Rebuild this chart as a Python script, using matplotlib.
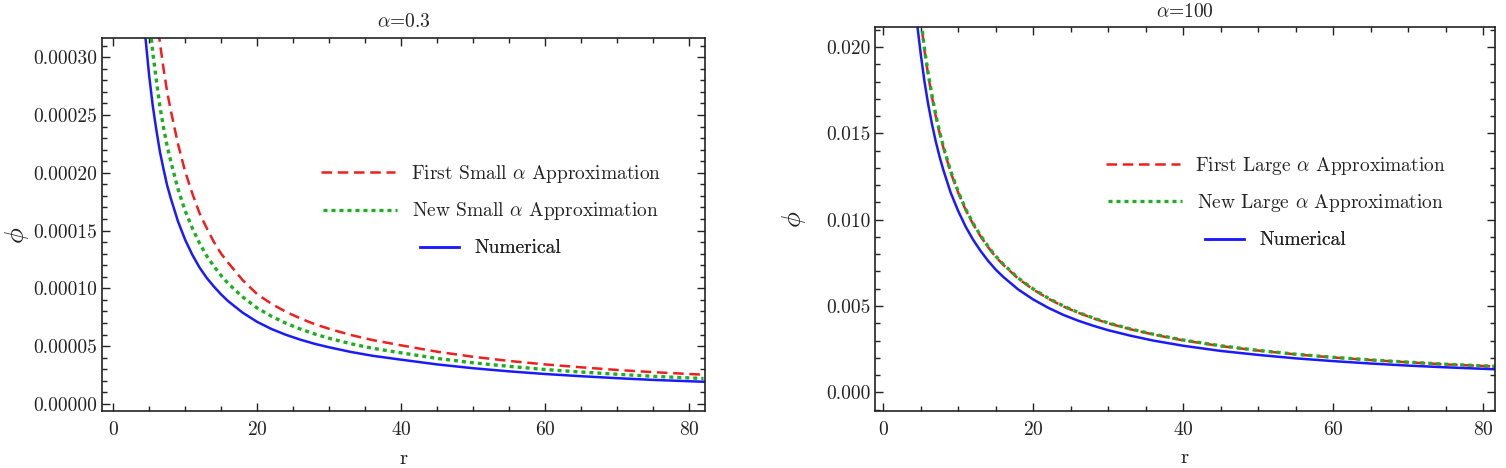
import matplotlib
matplotlib.use("Agg")
import matplotlib.pyplot as plt
from matplotlib.ticker import MultipleLocator, FormatStrFormatter

plt.rcParams['font.family'] = 'serif'
plt.rcParams['font.serif'] = ['cmr10', 'DejaVu Serif']
plt.rcParams['mathtext.fontset'] = 'cm'
plt.rcParams['axes.formatter.use_mathtext'] = True
plt.rcParams['axes.unicode_minus'] = False

# ---------------- data ----------------
r = [4.0, 4.5, 5.0, 5.5, 6.0, 6.5, 7.0, 7.5, 8.0, 9.0, 10.0, 11.0, 12.0, 13.0,
     14.0, 15.0, 16.0, 18.0, 20.0, 22.0, 24.0, 26.0, 28.0, 30.0, 33.0, 36.0,
     40.0, 45.0, 50.0, 55.0, 60.0, 65.0, 70.0, 75.0, 82.0]

# alpha = 0.3  (values in units of 1e-5)
small_numerical = [35.5, 31.6, 28.4, 25.8, 23.7, 21.8, 20.3, 18.9, 17.8, 15.8, 14.2,
                   12.9, 11.8, 10.9, 10.15, 9.47, 8.88, 7.89, 7.1, 6.48, 5.98, 5.56,
                   5.2, 4.9, 4.5, 4.17, 3.83, 3.42, 3.09, 2.82, 2.59, 2.4, 2.23,
                   2.08, 1.92]
small_new = [41.9, 37.3, 33.5, 30.4, 28.0, 25.7, 23.9, 22.3, 21.0, 18.6, 16.7,
             15.2, 13.9, 12.8, 11.9, 11.1, 10.4, 9.25, 8.3, 7.58, 6.98, 6.48,
             6.05, 5.68, 5.21, 4.82, 4.42, 3.94, 3.56, 3.25, 2.98, 2.76, 2.57,
             2.39, 2.2]
small_first = [50.8, 45.2, 40.6, 36.9, 33.9, 31.2, 29.0, 27.0, 25.4, 22.5, 20.1,
               18.2, 16.5, 15.2, 14.0, 13.0, 12.2, 10.7, 9.5, 8.66, 7.97, 7.4,
               6.9, 6.5, 5.97, 5.53, 5.07, 4.52, 4.08, 3.72, 3.42, 3.17, 2.94,
               2.75, 2.53]

# alpha = 100  (values in units of 1e-3)
large_numerical = [23.75, 21.4, 19.6, 18.0, 16.67, 15.54, 14.54, 13.67, 12.9, 11.56,
                   10.5, 9.59, 8.83, 8.18, 7.61, 7.11, 6.69, 5.96, 5.38, 4.9, 4.49,
                   4.15, 3.86, 3.6, 3.28, 3.0, 2.7, 2.4, 2.17, 1.97, 1.81, 1.67,
                   1.55, 1.45, 1.33]
large_first = [26.1, 23.5, 21.6, 19.8, 18.35, 17.1, 16.0, 15.05, 14.2, 12.73, 11.56,
               10.56, 9.73, 9.02, 8.4, 7.85, 7.39, 6.59, 5.96, 5.43, 4.98, 4.61,
               4.29, 4.0, 3.65, 3.35, 3.01, 2.68, 2.42, 2.2, 2.02, 1.87, 1.74,
               1.62, 1.49]
large_new = [26.2, 23.6, 21.7, 19.9, 18.45, 17.2, 16.1, 15.12, 14.27, 12.8, 11.62,
             10.61, 9.78, 9.07, 8.44, 7.89, 7.43, 6.62, 5.99, 5.46, 5.01, 4.63,
             4.31, 4.02, 3.67, 3.37, 3.03, 2.7, 2.43, 2.21, 2.03, 1.88, 1.75,
             1.63, 1.5]

small_labels = [r"First Small $\alpha$ Approximation",
                r"New Small $\alpha$ Approximation", "Numerical"]
large_labels = [r"First Large $\alpha$ Approximation",
                r"New Large $\alpha$ Approximation", "Numerical"]

RED = '#f01e1e'
GREEN = '#1fae1f'
BLUE = '#1a1aff'
TXT = '#222222'

fig = plt.figure(figsize=(15.06, 4.68), dpi=100)
W, H = 1506.0, 468.0
axL = fig.add_axes([102 / W, (H - 411) / H, (705 - 102) / W, (411 - 38) / H])
axR = fig.add_axes([875 / W, (H - 411) / H, (1495 - 875) / W, (411 - 27) / H])


def style(ax):
    ax.tick_params(which='both', direction='in', top=True, right=True,
                   colors=TXT, labelsize=14, width=1.0)
    ax.tick_params(which='major', length=6)
    ax.tick_params(which='minor', length=3.5)
    ax.tick_params(axis='x', pad=7)
    for s in ax.spines.values():
        s.set_linewidth(1.2)
        s.set_color('#222222')
    ax.xaxis.set_major_locator(MultipleLocator(20))
    ax.xaxis.set_minor_locator(MultipleLocator(5))


def add_legends(ax, lines, labels, xc, ys):
    lengths = [3.8, 3.8, 2.0]
    for ln, lab, y, hl in zip(lines, labels, ys, lengths):
        leg = ax.legend(handles=[ln], labels=[lab], loc='center',
                        bbox_to_anchor=(xc, y), bbox_transform=fig.transFigure,
                        frameon=False, fontsize=14, handlelength=hl,
                        handletextpad=0.8, borderpad=0, borderaxespad=0)
        for t in leg.get_texts():
            t.set_color(TXT)
        ax.add_artist(leg)


DASH = (0, (4.2, 2.3))
DOT = (0, (1.2, 1.2))

# ---------------- left panel ----------------
s = 1e-5
l1, = axL.plot(r, [v * s for v in small_first], color=RED, lw=1.8, linestyle=DASH)
l2, = axL.plot(r, [v * s for v in small_new], color=GREEN, lw=2.4, linestyle=DOT)
l3, = axL.plot(r, [v * s for v in small_numerical], color=BLUE, lw=1.8)
axL.set_xlim(-1.55, 82.2)
axL.set_ylim(-0.0000061, 0.0003166)
style(axL)
axL.yaxis.set_major_locator(MultipleLocator(0.00005))
axL.yaxis.set_minor_locator(MultipleLocator(0.00001))
axL.yaxis.set_major_formatter(FormatStrFormatter('%.5f'))
axL.set_title(r"$\alpha$=0.3", fontsize=14, color=TXT, pad=8)
axL.set_xlabel("r", fontsize=15, color=TXT)
axL.set_ylabel(r"$\phi$", fontsize=19, color=TXT)
axL.xaxis.set_label_coords(0.5, -0.105)
axL.yaxis.set_label_coords(-0.117, 0.47)
add_legends(axL, [l1, l2, l3], small_labels, 491 / W,
            [1 - 174 / H, 1 - 211.5 / H, 1 - 248.5 / H])

# ---------------- right panel ----------------
s = 1e-3
m1, = axR.plot(r, [v * s for v in large_first], color=RED, lw=1.8, linestyle=DASH)
m2, = axR.plot(r, [v * s for v in large_new], color=GREEN, lw=2.4, linestyle=DOT)
m3, = axR.plot(r, [v * s for v in large_numerical], color=BLUE, lw=1.8)
axR.set_xlim(-1.1, 81.6)
axR.set_ylim(-0.00108, 0.02116)
style(axR)
axR.yaxis.set_major_locator(MultipleLocator(0.005))
axR.yaxis.set_minor_locator(MultipleLocator(0.001))
axR.yaxis.set_major_formatter(FormatStrFormatter('%.3f'))
axR.set_title(r"$\alpha$=100", fontsize=14, color=TXT, pad=7)
axR.set_xlabel("r", fontsize=15, color=TXT)
axR.set_ylabel(r"$\phi$", fontsize=19, color=TXT)
axR.xaxis.set_label_coords(0.5, -0.10)
axR.yaxis.set_label_coords(-0.108, 0.5)
add_legends(axR, [m1, m2, m3], large_labels, 1276 / W,
            [1 - 165.5 / H, 1 - 203 / H, 1 - 240.5 / H])

fig.savefig("out.png", dpi=100)
